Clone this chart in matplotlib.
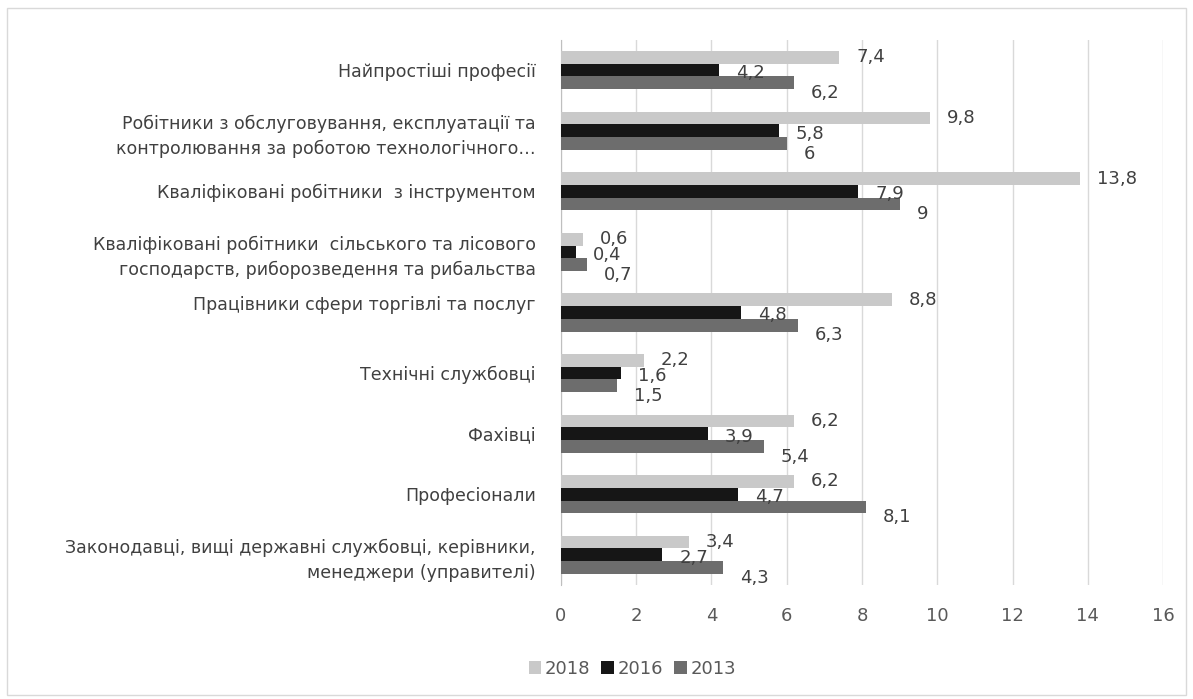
import numpy as np
import matplotlib as mpl
mpl.use('Agg')
import matplotlib.pyplot as plt
from matplotlib.patches import Rectangle

categories = [
    'Найпростіші професії',
    'Робітники з обслуговування, експлуатації та\nконтролювання за роботою технологічного…',
    'Кваліфіковані робітники  з інструментом',
    'Кваліфіковані робітники  сільського та лісового\nгосподарств, риборозведення та рибальства',
    'Працівники сфери торгівлі та послуг\n',
    'Технічні службовці',
    'Фахівці',
    'Професіонали',
    'Законодавці, вищі державні службовці, керівники,\nменеджери (управителі)',
]
years = ['2018', '2016', '2013']
v2018 = [7.4, 9.8, 13.8, 0.6, 8.8, 2.2, 6.2, 6.2, 3.4]
v2016 = [4.2, 5.8, 7.9, 0.4, 4.8, 1.6, 3.9, 4.7, 2.7]
v2013 = [6.2, 6, 9, 0.7, 6.3, 1.5, 5.4, 8.1, 4.3]
colors = ['#c9c9c9', '#161616', '#6d6d6d']

plt.rcParams['font.family'] = ['DejaVu Sans']
txt = '#404040'

fig = plt.figure(figsize=(11.93, 6.99), dpi=100)
ax = fig.add_axes([0.470, 0.163, 0.505, 0.780])

y = np.arange(len(categories))
h = 0.21
# labels sit a bit lower the further down the group (like the Excel original)
lab_dy = [0.0, 0.05, 0.17]
for i, (vals, c, lab) in enumerate(zip([v2018, v2016, v2013], colors, years)):
    pos = y + (i - 1) * h
    ax.barh(pos, vals, height=h, color=c, label=lab, zorder=3)
    for p, v in zip(pos, vals):
        s = ('%g' % v).replace('.', ',')
        ax.text(v + 0.45, p + lab_dy[i], s, va='center', ha='left',
                fontsize=13, color=txt, zorder=4)

ax.set_ylim(len(categories) - 0.5, -0.5)
ax.set_xlim(0, 16)
ax.set_xticks(range(0, 17, 2))
ax.set_yticks(y)
ax.set_yticklabels(categories, fontsize=12.5, color=txt, linespacing=1.5)
ax.tick_params(axis='x', colors='#595959', labelsize=13, length=0, pad=16)
ax.tick_params(axis='y', length=0, pad=18)
ax.grid(axis='x', color='#d9d9d9', linewidth=1, zorder=0)
for s in ['top', 'right', 'bottom']:
    ax.spines[s].set_visible(False)
ax.spines['left'].set_color('#bfbfbf')

fig.legend(loc='center', bbox_to_anchor=(0.53, 0.043), ncol=3, frameon=False,
           fontsize=13, handlelength=0.7, handleheight=0.7, handletextpad=0.2,
           columnspacing=0.6, labelcolor='#595959')
fig.patches.append(Rectangle((0.006, 0.006), 0.988, 0.982, transform=fig.transFigure,
                             fill=False, edgecolor='#d9d9d9', linewidth=1))

fig.savefig('out.png')
